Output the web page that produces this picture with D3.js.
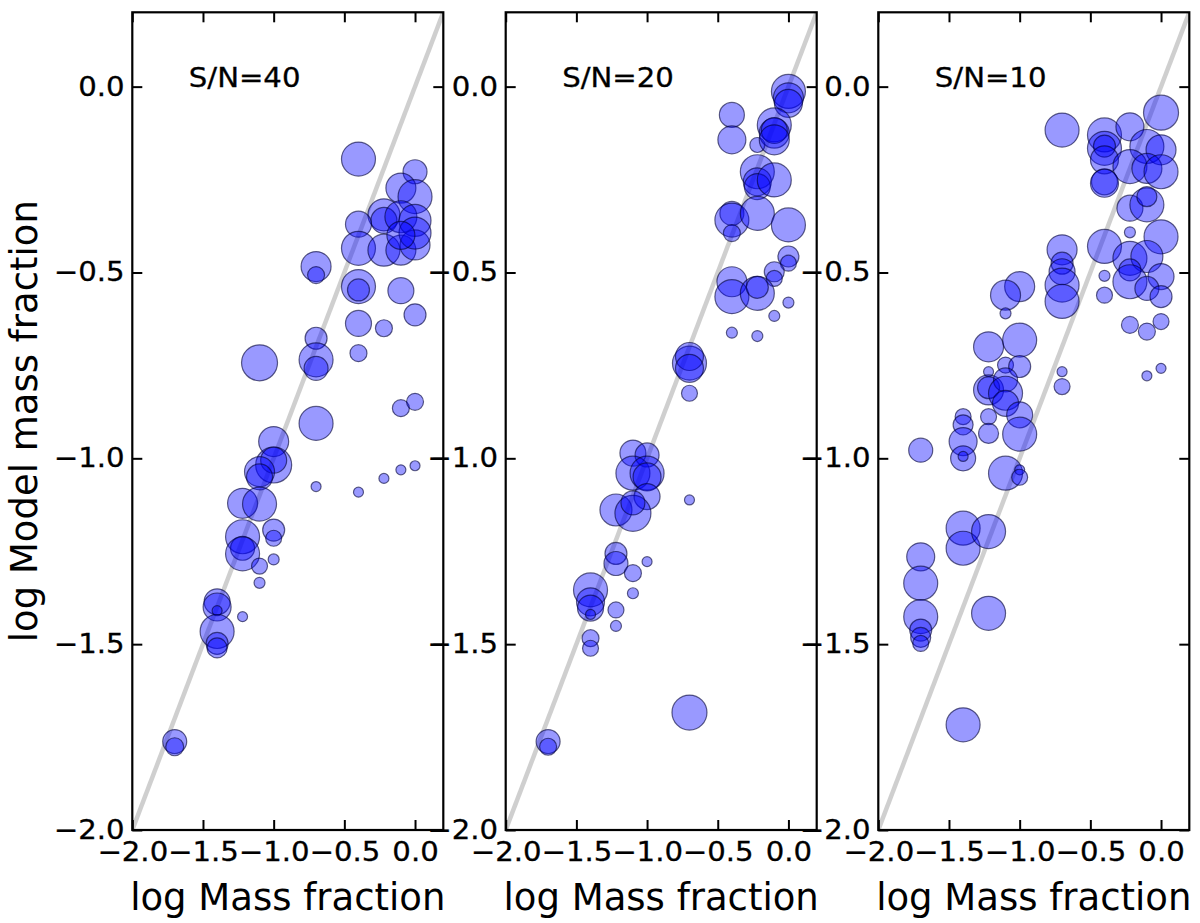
<!DOCTYPE html>
<html>
<head>
<meta charset="utf-8">
<script src="https://cdn.jsdelivr.net/npm/d3@7"></script>
<style>
body { margin: 0; background: #fff; }
text { font-family: "DejaVu Sans", sans-serif; fill: #000; }
</style>
</head>
<body>
<svg id="chart" width="1200" height="923"></svg>
<script>
// tick values shared by all three panels
const xTicks = [-2.0, -1.5, -1.0, -0.5, 0.0];
const yTicks = [0.0, -0.5, -1.0, -1.5, -2.0];
const panelLabels = ["S/N=40", "S/N=20", "S/N=10"];

// S/N=40 : input log mass fraction, recovered log mass fraction, marker size
const sn40X = [-0.40, 0.00, -0.10, 0.00, -0.22, -0.22, -0.10, 0.00, -0.40, -0.40,
               -0.22, -0.10, 0.00, 0.00, -0.10, -0.40, -0.40, -0.10, 0.00, -0.40,
               -0.22, -0.40, -0.70, -0.70, -0.70, -0.70, -0.70, -1.10, -0.70, -0.10,
               0.00, -1.00, -1.00, -1.00, -1.10, -1.10, -0.70, -0.40, -0.22, -0.10,
               0.00, -1.22, -1.10, -1.00, -1.00, -1.22, -1.22, -1.22, -1.10, -1.00,
               -1.10, -1.40, -1.40, -1.40, -1.22, -1.40, -1.40, -1.40, -1.70, -1.70];
const sn40Y = [-0.195, -0.229, -0.273, -0.296, -0.345, -0.360, -0.350, -0.360, -0.370, -0.435,
               -0.440, -0.440, -0.426, -0.394, -0.400, -0.538, -0.547, -0.549, -0.614, -0.637,
               -0.650, -0.717, -0.484, -0.507, -0.677, -0.735, -0.758, -0.743, -0.906, -0.865,
               -0.848, -0.955, -1.018, -1.005, -1.036, -1.050, -1.076, -1.091, -1.054, -1.031,
               -1.020, -1.121, -1.123, -1.193, -1.215, -1.211, -1.242, -1.257, -1.290, -1.272,
               -1.335, -1.386, -1.400, -1.410, -1.426, -1.466, -1.498, -1.510, -1.762, -1.776];
const sn40S = [17, 12, 15, 17, 16, 13, 16, 16, 13, 17,
               16, 15, 15, 16, 14, 17, 11, 13, 11, 13,
               8.5, 8.5, 15, 8.5, 11, 17, 12, 18, 17, 8.5,
               8.5, 15, 18, 13, 15, 13, 5, 5, 5, 5,
               5, 15, 17, 11, 8, 17, 12, 17, 8, 5.5,
               5.5, 13, 14, 5, 5, 17, 11, 10, 12, 9];

// S/N=20
const sn20X = [0.00, 0.00, 0.00, -0.40, -0.40, -0.22, -0.10, -0.10, -0.10, -0.10,
               -0.22, -0.22, -0.22, -0.10, -0.40, -0.40, -0.40, -0.22, 0.00, 0.00,
               0.00, -0.10, -0.10, -0.40, -0.40, -0.22, -0.22, 0.00, -0.10, -0.40,
               -0.22, -0.70, -0.70, -0.70, -0.70, -1.10, -1.00, -1.10, -1.00, -1.00,
               -1.00, -0.70, -1.22, -1.10, -1.10, -1.22, -1.22, -1.10, -1.00, -1.10,
               -1.40, -1.40, -1.40, -1.40, -1.22, -1.22, -1.40, -1.40, -0.70, -1.70,
               -1.70];
const sn20Y = [-0.013, -0.030, -0.045, -0.076, -0.143, -0.157, -0.103, -0.125, -0.118, -0.143,
               -0.229, -0.256, -0.269, -0.251, -0.341, -0.359, -0.394, -0.341, -0.372, -0.457,
               -0.475, -0.498, -0.516, -0.525, -0.565, -0.556, -0.540, -0.581, -0.617, -0.662,
               -0.671, -0.744, -0.726, -0.758, -0.825, -0.986, -0.991, -1.040, -1.040, -1.050,
               -1.103, -1.112, -1.139, -1.148, -1.120, -1.256, -1.283, -1.309, -1.278, -1.363,
               -1.354, -1.386, -1.403, -1.420, -1.408, -1.451, -1.484, -1.511, -1.684, -1.762,
               -1.776];
const sn20S = [17, 15, 14, 12.5, 14, 7.5, 17, 15, 13, 15,
               17, 14, 13, 17, 12, 17, 8.5, 17, 17, 10.5,
               8, 10, 8, 15, 17, 17, 11, 5.5, 5.5, 5.5,
               5.5, 17, 14, 14, 8, 13, 12, 17, 17, 14,
               13, 5, 16, 18, 12, 11, 12, 8.5, 5, 5.5,
               17, 14, 13, 5, 8, 5.5, 8.5, 8, 17.5, 12,
               8.5];

// S/N=10
const sn10X = [0.00, -0.70, -0.40, -0.22, -0.40, -0.40, -0.10, 0.00, -0.40, -0.22,
               -0.10, 0.00, -0.40, -0.40, -0.22, -0.10, -0.10, -0.22, -0.40, 0.00,
               -0.22, -0.10, -0.22, -0.22, 0.00, -0.10, 0.00, -0.40, -0.40, -0.70,
               -0.70, -0.70, -0.70, -0.70, -0.22, -0.10, 0.00, -0.10, 0.00, -0.70,
               -0.70, -1.00, -1.10, -1.10, -1.22, -1.00, -1.22, -1.10, -1.00, -1.22,
               -1.22, -1.10, -1.10, -1.10, -1.22, -1.22, -1.00, -1.00, -1.40, -1.40,
               -1.40, -1.40, -1.40, -1.70, -1.10, -1.00, -1.00, -1.40, -1.40, -1.22,
               -1.70, -1.70, -1.70, -1.70, -1.70, -1.70, -1.22, -1.40];
const sn10Y = [-0.070, -0.117, -0.130, -0.108, -0.166, -0.160, -0.161, -0.170, -0.197, -0.215,
               -0.220, -0.229, -0.256, -0.260, -0.327, -0.318, -0.296, -0.392, -0.430, -0.404,
               -0.462, -0.457, -0.493, -0.525, -0.511, -0.543, -0.565, -0.509, -0.561, -0.439,
               -0.475, -0.498, -0.534, -0.578, -0.641, -0.659, -0.632, -0.778, -0.758, -0.767,
               -0.807, -0.538, -0.561, -0.610, -0.700, -0.682, -0.767, -0.749, -0.753, -0.816,
               -0.810, -0.789, -0.825, -0.852, -0.888, -0.933, -0.883, -0.935, -0.888, -0.910,
               -0.955, -1.000, -0.995, -0.978, -1.040, -1.031, -1.051, -1.188, -1.242, -1.197,
               -1.265, -1.336, -1.426, -1.462, -1.482, -1.498, -1.417, -1.717];
const sn10S = [17.5, 17, 17, 14, 17, 11, 17, 15, 14, 17,
               15, 17, 13, 14, 13, 17, 10, 5.5, 17, 17,
               17, 16, 11, 17, 13, 12, 11, 5.5, 8, 15,
               11, 13, 17, 17, 8.5, 8.5, 8, 5, 5, 5,
               8, 15, 15, 5.5, 15, 17, 5, 8, 11, 15,
               11, 12, 17, 13, 8, 10, 13, 17, 8, 10,
               14, 12.5, 5, 12, 17, 5, 8, 17, 17, 17,
               14, 17, 17, 11, 10, 8, 17, 17];

const panelX = [sn40X, sn20X, sn10X];
const panelY = [sn40Y, sn20Y, sn10Y];
const panelS = [sn40S, sn20S, sn10S];

// layout
const panelLeft = [132.3, 505.7, 878.3];
const panelWidth = 311;
const panelTop = 12.3;
const panelBottom = 830;
const tickLen = 10;
const tickFont = 26.5;
const tickStretch = 1.1;
const labelFont = 37;

const svg = d3.select("#chart");

const yScale = d3.scaleLinear().domain([-2, 0.2]).range([panelBottom, panelTop]);
const sizeScale = d3.scaleLinear().domain([0, 18]).range([0, 18]);
const fmt = d3.format(".1f");

const styleTicks = (g) =>
{
    g.selectAll(".tick text")
        .attr("transform", `scale(${tickStretch},1)`)
        .attr("font-family", "DejaVu Sans")
        .attr("font-size", tickFont)
        .attr("stroke", "#000")
        .attr("stroke-width", 0.3);
    g.selectAll(".tick line")
        .attr("stroke", "#000")
        .attr("stroke-width", 2);
    g.select(".domain").remove();
}

const drawPanel = (i) =>
{
    const left = panelLeft[i];
    const xScale = d3.scaleLinear().domain([-2, 0.2]).range([left, left + panelWidth]);
    const g = svg.append("g").attr("class", `panel-${i}`);

    g.append("clipPath").attr("id", `clip-${i}`)
        .append("rect")
        .attr("x", left).attr("y", panelTop)
        .attr("width", panelWidth).attr("height", panelBottom - panelTop);

    // one-to-one line
    g.append("line")
        .attr("clip-path", `url(#clip-${i})`)
        .attr("x1", xScale(-2)).attr("y1", yScale(-2))
        .attr("x2", xScale(0.2)).attr("y2", yScale(0.2))
        .attr("stroke", "#cfcfcf")
        .attr("stroke-width", 4.5);

    const pts = panelX[i].map((x, k) => ({ x: x, y: panelY[i][k], s: panelS[i][k] }));

    g.append("g")
        .attr("clip-path", `url(#clip-${i})`)
        .selectAll("circle")
        .data(pts)
        .join("circle")
        .attr("cx", d => xScale(d.x))
        .attr("cy", d => yScale(d.y))
        .attr("r", d => sizeScale(d.s))
        .attr("fill", "blue")
        .attr("fill-opacity", 0.4)
        .attr("stroke", "#000033")
        .attr("stroke-opacity", 0.6)
        .attr("stroke-width", 1.2);

    // axes, ticks pointing inward on all four sides
    g.append("g")
        .attr("transform", `translate(0,${panelBottom})`)
        .call(d3.axisBottom(xScale).tickValues(xTicks).tickFormat(fmt)
            .tickSizeInner(-tickLen).tickSizeOuter(0).tickPadding(12))
        .call(styleTicks);

    g.append("g")
        .attr("transform", `translate(0,${panelTop})`)
        .call(d3.axisTop(xScale).tickValues(xTicks).tickFormat("")
            .tickSizeInner(-tickLen).tickSizeOuter(0))
        .call(styleTicks);

    g.append("g")
        .attr("transform", `translate(${left},0)`)
        .call(d3.axisLeft(yScale).tickValues(yTicks).tickFormat(fmt)
            .tickSizeInner(-tickLen).tickSizeOuter(0).tickPadding(7))
        .call(styleTicks);

    g.append("g")
        .attr("transform", `translate(${left + panelWidth},0)`)
        .call(d3.axisRight(yScale).tickValues(yTicks).tickFormat("")
            .tickSizeInner(-tickLen).tickSizeOuter(0))
        .call(styleTicks);

    // frame
    g.append("rect")
        .attr("x", left).attr("y", panelTop)
        .attr("width", panelWidth).attr("height", panelBottom - panelTop)
        .attr("fill", "none")
        .attr("stroke", "#000")
        .attr("stroke-width", 2.2);

    g.append("text")
        .attr("transform", `translate(${xScale(-1.6)},${yScale(0)}) scale(${tickStretch},1)`)
        .attr("font-size", tickFont)
        .attr("stroke", "#000")
        .attr("stroke-width", 0.3)
        .text(panelLabels[i]);

    g.append("text")
        .attr("x", left + panelWidth / 2)
        .attr("y", 910)
        .attr("text-anchor", "middle")
        .attr("font-size", labelFont)
        .text("log Mass fraction");
}

for (let i = 0; i < 3; i++)
{
    drawPanel(i);
}

svg.append("text")
    .attr("transform", `translate(37,${(panelTop + panelBottom) / 2}) rotate(-90)`)
    .attr("text-anchor", "middle")
    .attr("font-size", labelFont)
    .text("log Model mass fraction");
</script>
</body>
</html>
